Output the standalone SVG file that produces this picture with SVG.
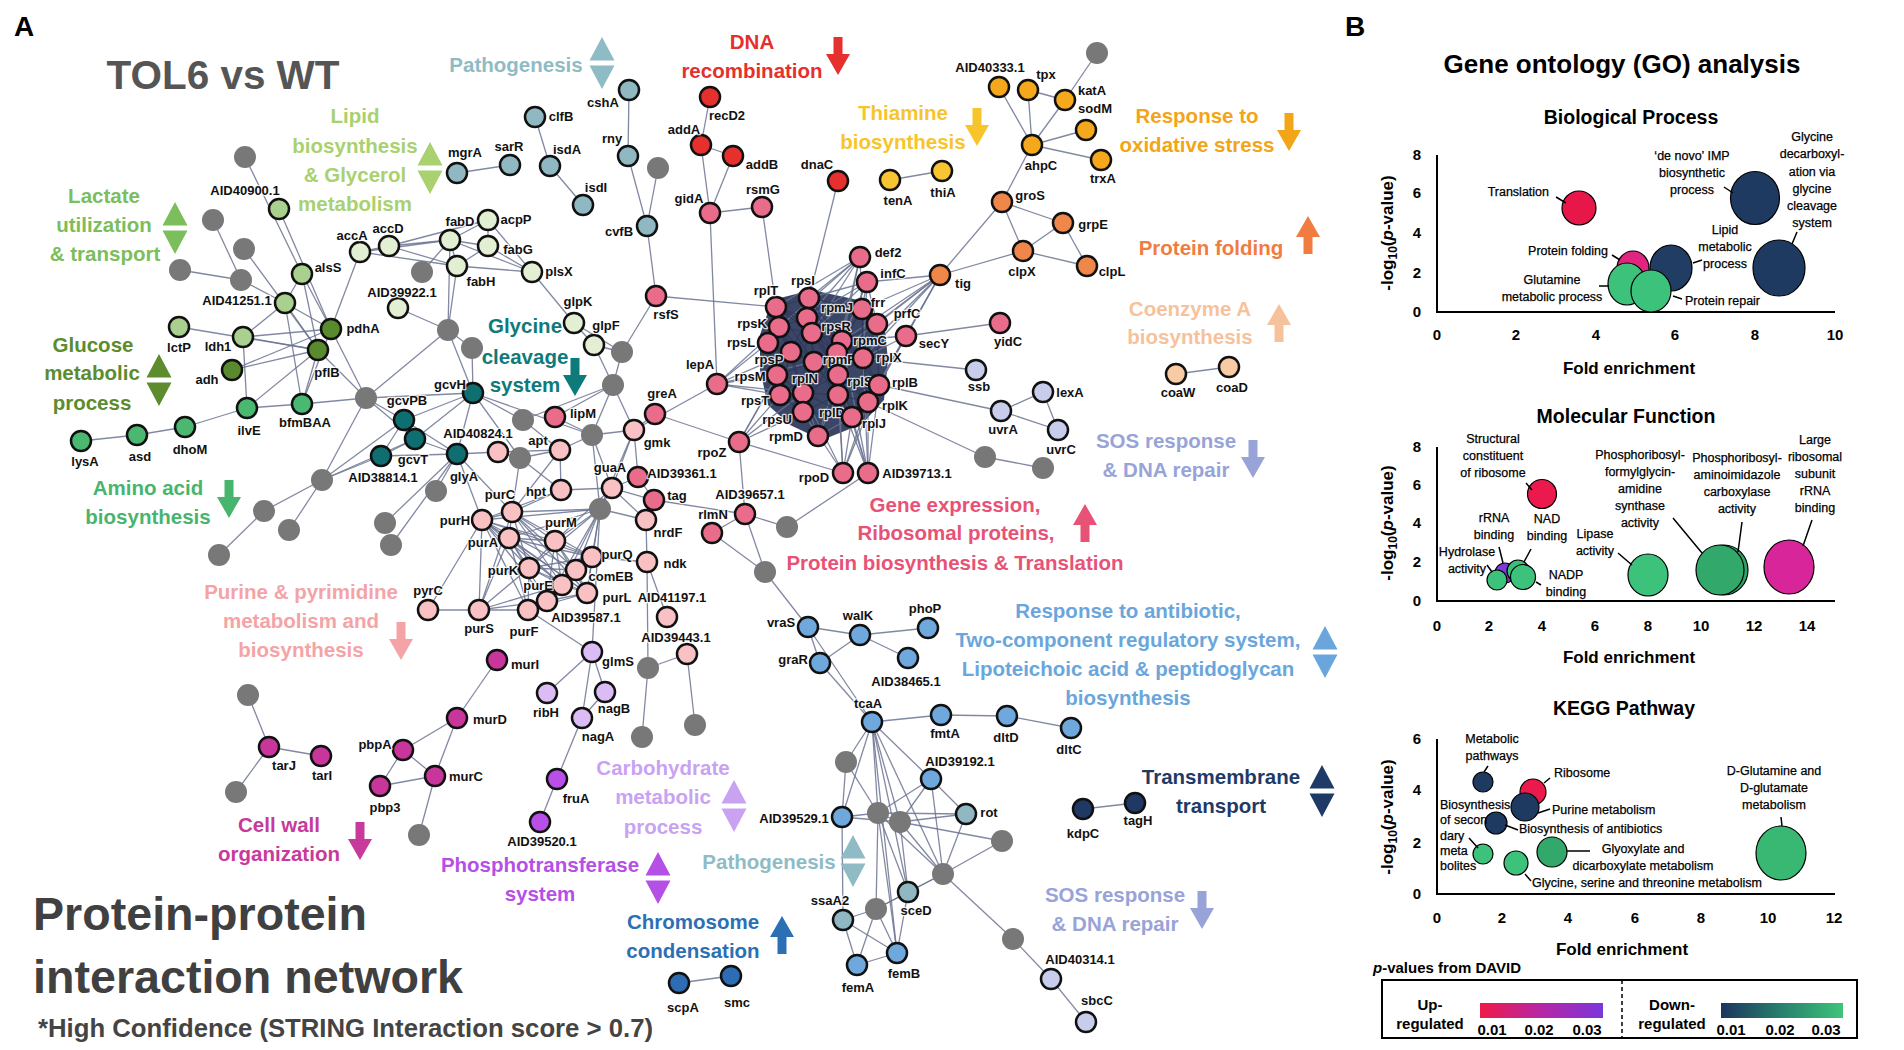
<svg xmlns="http://www.w3.org/2000/svg" width="1904" height="1050" viewBox="0 0 1904 1050">
<style>
text{font-family:"Liberation Sans",Arial,sans-serif}
.e path{fill:none;stroke:#6b7392;stroke-width:1.3;opacity:.85}
.k path{fill:none;stroke:#2f3a5e;stroke-width:1.2}
.nd circle{stroke:#111;stroke-width:2.5}
.nd text{font-size:13px;font-weight:700;text-anchor:middle;fill:#111;paint-order:stroke;stroke:#fff;stroke-width:2.5;stroke-linejoin:round;stroke-opacity:.8}
.gn circle{fill:#787878}
.cat text{font-size:20.5px;font-weight:700;text-anchor:middle}
.cLp{fill:#e3efd2}.cLa{fill:#a9d08e}.cGl{fill:#5a8a2e}.cAm{fill:#4bb872}.cGc{fill:#0f6e70}.cPa{fill:#8fb8c2}.cDn{fill:#e5302d}.cGe{fill:#ea6c8b}.cPu{fill:#f9c1c3}.cTh{fill:#f7c531}.cOx{fill:#f5a81c}.cFo{fill:#f0874a}.cCo{fill:#f8cba5}.cSo{fill:#c8cdeb}.cAb{fill:#6fa8dc}.cCw{fill:#c8359b}.cCa{fill:#dcbcf4}.cPt{fill:#b94fe8}.cCh{fill:#2e6db3}.cTm{fill:#1f3864}
.ax{fill:none;stroke:#000;stroke-width:2}
.tk{font-size:15px;font-weight:700;text-anchor:middle}
.bl{font-size:12.5px;text-anchor:middle;stroke:#000;stroke-width:.25}
.ld{stroke:#000;stroke-width:1.5;fill:none}
.bb{stroke:#000;stroke-width:1.2}
.st{font-size:19.5px;font-weight:700;text-anchor:middle}
.fe{font-size:17px;font-weight:700;text-anchor:middle}
</style>
<defs>
<path id="aD" d="M-4.5,-19H4.5V-2H12L0,19L-12,-2H-4.5Z"/>
<path id="aU" d="M-4.5,19H4.5V2H12L0,-19L-12,2H-4.5Z"/>
<path id="aB" d="M0,-26L12.5,-2.5H-12.5ZM0,26L12.5,2.5H-12.5Z"/>
<linearGradient id="gup"><stop offset="0" stop-color="#ef1a47"/><stop offset=".5" stop-color="#b626a6"/><stop offset="1" stop-color="#7b36db"/></linearGradient>
<linearGradient id="gdn"><stop offset="0" stop-color="#1c355f"/><stop offset=".5" stop-color="#28806d"/><stop offset="1" stop-color="#3fc47a"/></linearGradient>
</defs>
<rect width="1904" height="1050" fill="#fff"/>

<text x="14" y="36" font-size="28" font-weight="700">A</text>
<text x="223" y="89" font-size="41" font-weight="700" fill="#555" text-anchor="middle" textLength="233" lengthAdjust="spacingAndGlyphs">TOL6 vs WT</text>
<text x="33" y="930" font-size="47" font-weight="700" fill="#404040" textLength="334" lengthAdjust="spacingAndGlyphs">Protein-protein</text>
<text x="33" y="993" font-size="47" font-weight="700" fill="#404040" textLength="430" lengthAdjust="spacingAndGlyphs">interaction network</text>
<text x="38" y="1037" font-size="25" font-weight="700" fill="#444" textLength="615" lengthAdjust="spacingAndGlyphs">*High Confidence (STRING Interaction score &gt; 0.7)</text>

<g id="connectors">
<polygon points="772,300 812,290 858,300 884,322 888,360 884,400 862,424 822,440 790,425 768,405 760,370 760,335" fill="#2a3558" opacity=".92"/>
<g class="e">
<path d="M245 157L302 274"/><path d="M279 209L331 329"/><path d="M213 220L241 280"/><path d="M244 249L318 350"/><path d="M180 270L241 280"/><path d="M241 280L285 303"/><path d="M302 274L285 303"/><path d="M302 274L331 329"/><path d="M302 274L318 350"/><path d="M285 303L243 337"/><path d="M285 303L331 329"/><path d="M285 303L318 350"/><path d="M285 303L302 404"/><path d="M179 327L318 350"/><path d="M243 337L331 329"/><path d="M243 337L318 350"/><path d="M243 337L247 408"/><path d="M232 370L331 329"/><path d="M232 370L318 350"/><path d="M318 350L247 408"/><path d="M318 350L302 404"/><path d="M331 329L302 404"/><path d="M331 329L366 398"/><path d="M318 350L366 398"/><path d="M360 252L331 329"/><path d="M360 252L389 246"/><path d="M389 246L450 240"/><path d="M360 252L450 240"/><path d="M389 246L457 266"/><path d="M360 252L457 266"/><path d="M389 246L488 220"/><path d="M450 240L488 220"/><path d="M450 240L488 246"/><path d="M450 240L457 266"/><path d="M488 220L488 246"/><path d="M488 246L457 266"/><path d="M488 220L532 272"/><path d="M488 246L532 272"/><path d="M457 266L532 272"/><path d="M450 240L532 272"/><path d="M450 240L448 330"/><path d="M457 266L448 330"/><path d="M398 308L448 330"/><path d="M422 272L450 240"/><path d="M532 272L574 323"/><path d="M574 323L594 345"/><path d="M574 323L622 352"/><path d="M594 345L622 352"/><path d="M594 345L613 385"/><path d="M448 330L472 348"/><path d="M448 330L473 393"/><path d="M472 348L473 393"/><path d="M448 330L366 398"/><path d="M366 398L302 404"/><path d="M247 408L302 404"/><path d="M247 408L185 427"/><path d="M185 427L137 435"/><path d="M137 435L81 441"/><path d="M366 398L404 420"/><path d="M366 398L415 439"/><path d="M366 398L473 393"/><path d="M366 398L322 480"/><path d="M322 480L404 420"/><path d="M322 480L415 439"/><path d="M322 480L381 456"/><path d="M322 480L264 511"/><path d="M322 480L289 530"/><path d="M264 511L219 555"/><path d="M404 420L415 439"/><path d="M404 420L381 456"/><path d="M415 439L381 456"/><path d="M404 420L457 454"/><path d="M415 439L457 454"/><path d="M473 393L404 420"/><path d="M473 393L415 439"/><path d="M473 393L457 454"/><path d="M381 456L457 454"/><path d="M457 454L436 491"/><path d="M457 454L385 523"/><path d="M457 454L391 545"/><path d="M457 454L482 520"/><path d="M457 454L512 512"/><path d="M457 454L498 452"/><path d="M473 393L592 435"/><path d="M473 393L523 420"/><path d="M473 393L520 458"/>
<path d="M622 352L613 385"/><path d="M613 385L634 430"/><path d="M613 385L592 435"/><path d="M613 385L555 417"/><path d="M613 385L523 420"/><path d="M523 420L560 450"/><path d="M592 435L560 450"/><path d="M592 435L634 430"/><path d="M592 435L612 488"/><path d="M592 435L555 417"/><path d="M592 435L600 509"/><path d="M520 458L512 512"/><path d="M520 458L560 450"/><path d="M520 458L561 490"/><path d="M498 452L520 458"/><path d="M498 452L560 450"/><path d="M560 450L561 490"/><path d="M560 450L512 512"/><path d="M561 490L612 488"/><path d="M561 490L512 512"/><path d="M561 490L482 520"/><path d="M634 430L612 488"/><path d="M634 430L655 414"/><path d="M634 430L717 384"/><path d="M634 430L600 509"/><path d="M634 430L638 477"/><path d="M655 414L739 442"/><path d="M612 488L600 509"/><path d="M612 488L654 500"/><path d="M612 488L646 520"/><path d="M612 488L555 541"/><path d="M612 488L638 477"/><path d="M638 477L654 500"/><path d="M654 500L646 520"/><path d="M654 500L745 514"/><path d="M646 520L647 562"/><path d="M647 562L592 557"/><path d="M647 562L667 617"/><path d="M647 562L648 668"/><path d="M648 668L687 654"/><path d="M648 668L642 737"/><path d="M687 654L695 725"/><path d="M600 509L592 652"/><path d="M600 509L555 541"/><path d="M600 509L592 557"/><path d="M600 509L576 570"/><path d="M600 509L562 585"/><path d="M600 509L529 568"/><path d="M600 509L587 593"/><path d="M600 509L547 601"/><path d="M600 509L509 538"/><path d="M600 509L482 520"/><path d="M600 509L512 512"/><path d="M600 509L646 520"/>
<path d="M482 520L512 512"/><path d="M482 520L509 538"/><path d="M482 520L555 541"/><path d="M482 520L529 568"/><path d="M482 520L562 585"/><path d="M482 520L592 557"/><path d="M482 520L576 570"/><path d="M482 520L587 593"/><path d="M482 520L547 601"/><path d="M482 520L479 610"/><path d="M482 520L528 610"/><path d="M512 512L509 538"/><path d="M512 512L555 541"/><path d="M512 512L529 568"/><path d="M512 512L562 585"/><path d="M512 512L592 557"/><path d="M512 512L576 570"/><path d="M512 512L587 593"/><path d="M512 512L479 610"/><path d="M509 538L555 541"/><path d="M509 538L529 568"/><path d="M509 538L562 585"/><path d="M509 538L592 557"/><path d="M509 538L587 593"/><path d="M509 538L547 601"/><path d="M509 538L479 610"/><path d="M509 538L528 610"/><path d="M555 541L529 568"/><path d="M555 541L562 585"/><path d="M555 541L592 557"/><path d="M555 541L576 570"/><path d="M555 541L587 593"/><path d="M555 541L547 601"/><path d="M529 568L562 585"/><path d="M529 568L592 557"/><path d="M529 568L576 570"/><path d="M529 568L587 593"/><path d="M529 568L479 610"/><path d="M529 568L528 610"/><path d="M562 585L592 557"/><path d="M562 585L576 570"/><path d="M562 585L587 593"/><path d="M562 585L547 601"/><path d="M562 585L479 610"/><path d="M562 585L528 610"/><path d="M592 557L576 570"/><path d="M592 557L587 593"/><path d="M576 570L587 593"/><path d="M547 601L587 593"/><path d="M547 601L528 610"/><path d="M479 610L528 610"/><path d="M479 610L547 601"/><path d="M528 610L587 593"/><path d="M482 520L428 610"/><path d="M428 610L479 610"/><path d="M528 610L592 652"/><path d="M592 652L547 693"/><path d="M592 652L605 692"/><path d="M592 652L582 718"/><path d="M605 692L582 718"/><path d="M582 718L557 779"/><path d="M557 779L540 822"/><path d="M497 660L457 718"/><path d="M457 718L403 750"/><path d="M457 718L435 776"/><path d="M403 750L435 776"/><path d="M403 750L380 786"/><path d="M380 786L435 776"/><path d="M435 776L419 835"/><path d="M248 695L269 747"/><path d="M269 747L321 756"/><path d="M269 747L236 792"/>
<path d="M717 384L768 343"/><path d="M717 384L791 352"/><path d="M717 384L777 375"/><path d="M717 384L780 395"/><path d="M717 384L779 327"/><path d="M717 384L803 393"/><path d="M717 384L814 362"/><path d="M710 213L717 384"/><path d="M710 213L762 207"/><path d="M701 145L710 213"/><path d="M733 156L710 213"/><path d="M701 145L733 156"/><path d="M701 145L710 97"/><path d="M762 207L776 307"/><path d="M838 181L809 298"/><path d="M629 90L628 156"/><path d="M628 156L647 226"/><path d="M658 168L647 226"/><path d="M647 226L656 296"/><path d="M656 296L776 307"/><path d="M656 296L622 352"/><path d="M535 117L550 166"/><path d="M550 166L583 205"/><path d="M457 173L510 165"/><path d="M890 180L942 171"/><path d="M999 87L1032 145"/><path d="M1028 90L1032 145"/><path d="M1028 90L1065 100"/><path d="M1065 100L1032 145"/><path d="M1065 100L1097 53"/><path d="M1086 130L1032 145"/><path d="M1101 160L1032 145"/><path d="M1032 145L1002 202"/><path d="M1002 202L1063 223"/><path d="M1002 202L1023 251"/><path d="M1063 223L1023 251"/><path d="M1063 223L1087 266"/><path d="M1023 251L1087 266"/><path d="M1002 202L940 275"/><path d="M1023 251L940 275"/><path d="M940 275L867 282"/>
<path d="M940 275L862 309"/><path d="M940 275L877 324"/><path d="M940 275L906 336"/><path d="M940 275L842 341"/><path d="M940 275L863 358"/><path d="M940 275L879 385"/><path d="M940 275L838 375"/><path d="M940 275L837 353"/><path d="M940 275L868 402"/>
<path d="M860 257L776 307"/><path d="M860 257L809 298"/><path d="M860 257L807 318"/><path d="M860 257L812 333"/><path d="M860 257L842 341"/><path d="M860 257L837 353"/><path d="M860 257L862 309"/><path d="M860 257L779 327"/>
<path d="M867 282L809 298"/><path d="M867 282L812 333"/><path d="M867 282L842 341"/><path d="M867 282L837 353"/><path d="M867 282L863 358"/><path d="M867 282L862 309"/><path d="M867 282L877 324"/><path d="M867 282L807 318"/>
<path d="M906 336L1000 323"/><path d="M906 336L863 358"/><path d="M906 336L879 385"/><path d="M906 336L842 341"/><path d="M906 336L868 402"/><path d="M976 370L863 358"/><path d="M879 385L1001 411"/><path d="M1001 411L1043 392"/><path d="M1043 392L1058 430"/><path d="M1001 411L1058 430"/><path d="M868 402L985 457"/><path d="M985 457L1043 468"/><path d="M1176 374L1229 367"/>
<path d="M739 442L777 375"/><path d="M739 442L780 395"/><path d="M739 442L803 393"/><path d="M739 442L803 412"/><path d="M739 442L791 352"/><path d="M739 442L843 473"/><path d="M739 442L745 514"/>
<path d="M818 436L803 393"/><path d="M818 436L838 395"/><path d="M818 436L803 412"/><path d="M818 436L852 417"/><path d="M818 436L838 375"/>
<path d="M843 473L803 393"/><path d="M843 473L838 395"/><path d="M843 473L803 412"/><path d="M843 473L852 417"/><path d="M843 473L838 375"/><path d="M843 473L879 385"/><path d="M843 473L868 402"/>
<path d="M868 473L879 385"/><path d="M868 473L868 402"/><path d="M868 473L852 417"/><path d="M868 473L838 395"/><path d="M868 473L838 375"/><path d="M868 473L863 358"/><path d="M868 473L842 341"/>
<path d="M787 527L868 473"/><path d="M745 514L787 527"/><path d="M712 533L745 514"/><path d="M712 533L765 572"/><path d="M745 514L765 572"/><path d="M765 572L808 627"/><path d="M808 627L860 635"/><path d="M808 627L820 663"/><path d="M860 635L820 663"/><path d="M860 635L928 628"/><path d="M860 635L908 658"/><path d="M808 627L872 722"/><path d="M820 663L872 722"/><path d="M872 722L941 715"/><path d="M941 715L1007 716"/><path d="M1007 716L1071 728"/>
<path d="M872 722L846 762"/><path d="M872 722L878 813"/><path d="M872 722L900 822"/><path d="M872 722L931 779"/><path d="M872 722L943 874"/><path d="M872 722L842 817"/><path d="M872 722L908 892"/><path d="M872 722L897 953"/><path d="M846 762L842 817"/><path d="M846 762L878 813"/><path d="M842 817L878 813"/><path d="M842 817L900 822"/><path d="M842 817L843 920"/><path d="M878 813L900 822"/><path d="M878 813L966 814"/><path d="M900 822L966 814"/><path d="M900 822L931 779"/><path d="M878 813L931 779"/><path d="M900 822L1002 841"/><path d="M900 822L943 874"/><path d="M878 813L943 874"/><path d="M900 822L908 892"/><path d="M878 813L897 953"/><path d="M878 813L876 909"/><path d="M878 813L908 892"/><path d="M931 779L943 874"/><path d="M931 779L966 814"/><path d="M966 814L943 874"/><path d="M1002 841L943 874"/><path d="M943 874L908 892"/><path d="M943 874L876 909"/><path d="M943 874L1013 939"/><path d="M908 892L876 909"/><path d="M908 892L897 953"/><path d="M843 920L876 909"/><path d="M843 920L857 965"/><path d="M843 920L897 953"/><path d="M876 909L857 965"/><path d="M876 909L897 953"/><path d="M857 965L897 953"/><path d="M1013 939L1051 979"/><path d="M1051 979L1086 1022"/><path d="M1083 809L1135 803"/><path d="M679 983L731 976"/>
</g>
<g class="k">
<path d="M776 307L809 298"/><path d="M776 307L807 318"/><path d="M776 307L779 327"/><path d="M776 307L812 333"/><path d="M776 307L768 343"/><path d="M776 307L842 341"/><path d="M776 307L791 352"/><path d="M809 298L807 318"/><path d="M809 298L812 333"/><path d="M809 298L842 341"/><path d="M809 298L837 353"/><path d="M809 298L862 309"/><path d="M807 318L779 327"/><path d="M807 318L812 333"/><path d="M807 318L842 341"/><path d="M807 318L791 352"/><path d="M807 318L814 362"/><path d="M807 318L837 353"/><path d="M779 327L812 333"/><path d="M779 327L768 343"/><path d="M779 327L791 352"/><path d="M779 327L814 362"/><path d="M779 327L777 375"/><path d="M812 333L842 341"/><path d="M812 333L791 352"/><path d="M812 333L814 362"/><path d="M812 333L837 353"/><path d="M812 333L838 375"/><path d="M842 341L837 353"/><path d="M842 341L863 358"/><path d="M842 341L862 309"/><path d="M842 341L877 324"/><path d="M842 341L838 375"/><path d="M842 341L879 385"/><path d="M768 343L791 352"/><path d="M768 343L777 375"/><path d="M768 343L814 362"/><path d="M768 343L780 395"/><path d="M791 352L814 362"/><path d="M791 352L777 375"/><path d="M791 352L780 395"/><path d="M791 352L803 393"/><path d="M814 362L837 353"/><path d="M814 362L838 375"/><path d="M814 362L803 393"/><path d="M814 362L777 375"/><path d="M814 362L838 395"/><path d="M837 353L863 358"/><path d="M837 353L838 375"/><path d="M837 353L838 395"/><path d="M863 358L838 375"/><path d="M863 358L879 385"/><path d="M863 358L868 402"/><path d="M863 358L877 324"/><path d="M777 375L780 395"/><path d="M777 375L803 393"/><path d="M777 375L803 412"/><path d="M838 375L879 385"/><path d="M838 375L803 393"/><path d="M838 375L838 395"/><path d="M838 375L868 402"/><path d="M838 375L852 417"/><path d="M879 385L868 402"/><path d="M879 385L838 395"/><path d="M780 395L803 393"/><path d="M780 395L803 412"/><path d="M803 393L838 395"/><path d="M803 393L803 412"/><path d="M803 393L852 417"/><path d="M838 395L868 402"/><path d="M838 395L803 412"/><path d="M838 395L852 417"/><path d="M868 402L852 417"/><path d="M803 412L852 417"/><path d="M862 309L877 324"/><path d="M776 307L852 417"/><path d="M809 298L838 395"/><path d="M779 327L803 393"/><path d="M807 318L803 412"/><path d="M812 333L868 402"/><path d="M837 353L780 395"/><path d="M842 341L803 412"/><path d="M862 309L837 353"/><path d="M862 309L863 358"/><path d="M877 324L879 385"/>
</g>
</g>

<g id="gray-nodes" class="gn">
<g id="g01"><circle cx="245" cy="157" r="11"/></g><g id="g02"><circle cx="213" cy="220" r="11"/></g><g id="g03"><circle cx="244" cy="249" r="11"/></g><g id="g04"><circle cx="180" cy="270" r="11"/></g><g id="g05"><circle cx="241" cy="280" r="11"/></g><g id="g06"><circle cx="422" cy="272" r="11"/></g><g id="g07"><circle cx="448" cy="330" r="11"/></g><g id="g08"><circle cx="472" cy="348" r="11"/></g><g id="g09"><circle cx="622" cy="352" r="11"/></g><g id="g10"><circle cx="658" cy="168" r="11"/></g><g id="g11"><circle cx="366" cy="398" r="11"/></g><g id="g12"><circle cx="322" cy="480" r="11"/></g><g id="g13"><circle cx="264" cy="511" r="11"/></g><g id="g14"><circle cx="289" cy="530" r="11"/></g><g id="g15"><circle cx="219" cy="555" r="11"/></g><g id="g16"><circle cx="436" cy="491" r="11"/></g><g id="g17"><circle cx="385" cy="523" r="11"/></g><g id="g18"><circle cx="391" cy="545" r="11"/></g><g id="g19"><circle cx="613" cy="385" r="11"/></g><g id="g20"><circle cx="523" cy="420" r="11"/></g><g id="g21"><circle cx="592" cy="435" r="11"/></g><g id="g22"><circle cx="520" cy="458" r="11"/></g><g id="g23"><circle cx="600" cy="509" r="11"/></g><g id="g24"><circle cx="787" cy="527" r="11"/></g><g id="g25"><circle cx="765" cy="572" r="11"/></g><g id="g26"><circle cx="648" cy="668" r="11"/></g><g id="g27"><circle cx="642" cy="737" r="11"/></g><g id="g28"><circle cx="695" cy="725" r="11"/></g><g id="g29"><circle cx="248" cy="695" r="11"/></g><g id="g30"><circle cx="236" cy="792" r="11"/></g><g id="g31"><circle cx="419" cy="835" r="11"/></g><g id="g32"><circle cx="1097" cy="53" r="11"/></g><g id="g33"><circle cx="985" cy="457" r="11"/></g><g id="g34"><circle cx="1043" cy="468" r="11"/></g><g id="g35"><circle cx="846" cy="762" r="11"/></g><g id="g36"><circle cx="878" cy="813" r="11"/></g><g id="g37"><circle cx="900" cy="822" r="11"/></g><g id="g38"><circle cx="1002" cy="841" r="11"/></g><g id="g39"><circle cx="943" cy="874" r="11"/></g><g id="g40"><circle cx="876" cy="909" r="11"/></g><g id="g41"><circle cx="1013" cy="939" r="11"/></g>
</g>

<g id="nodes" class="nd">
<g id="n-accA"><circle class="cLp" cx="360" cy="252" r="10"/><text x="352" y="239.5">accA</text></g>
<g id="n-accD"><circle class="cLp" cx="389" cy="246" r="10"/><text x="388" y="232.5">accD</text></g>
<g id="n-fabD"><circle class="cLp" cx="450" cy="240" r="10"/><text x="460" y="225.5">fabD</text></g>
<g id="n-acpP"><circle class="cLp" cx="488" cy="220" r="10"/><text x="516" y="223.5">acpP</text></g>
<g id="n-fabG"><circle class="cLp" cx="488" cy="246" r="10"/><text x="518" y="253.5">fabG</text></g>
<g id="n-fabH"><circle class="cLp" cx="457" cy="266" r="10"/><text x="481" y="285.5">fabH</text></g>
<g id="n-plsX"><circle class="cLp" cx="532" cy="272" r="10"/><text x="559" y="275.5">plsX</text></g>
<g id="n-glpK"><circle class="cLp" cx="574" cy="323" r="10"/><text x="578" y="305.5">glpK</text></g>
<g id="n-glpF"><circle class="cLp" cx="594" cy="345" r="10"/><text x="606" y="329.5">glpF</text></g>
<g id="n-AID39922"><circle class="cLp" cx="398" cy="308" r="10"/><text x="402" y="296.5">AID39922.1</text></g>
<g id="n-AID40900"><circle class="cLa" cx="279" cy="209" r="10"/><text x="245" y="194.5">AID40900.1</text></g>
<g id="n-alsS"><circle class="cLa" cx="302" cy="274" r="10"/><text x="328" y="271.5">alsS</text></g>
<g id="n-AID41251"><circle class="cLa" cx="285" cy="303" r="10"/><text x="237" y="304.5">AID41251.1</text></g>
<g id="n-lctP"><circle class="cLa" cx="179" cy="327" r="10"/><text x="179" y="351.5">lctP</text></g>
<g id="n-ldh1"><circle class="cLa" cx="243" cy="337" r="10"/><text x="218" y="350.5">ldh1</text></g>
<g id="n-pdhA"><circle class="cGl" cx="331" cy="329" r="10"/><text x="363" y="332.5">pdhA</text></g>
<g id="n-pflB"><circle class="cGl" cx="318" cy="350" r="10"/><text x="327" y="376.5">pflB</text></g>
<g id="n-adh"><circle class="cGl" cx="232" cy="370" r="10"/><text x="207" y="383.5">adh</text></g>
<g id="n-ilvE"><circle class="cAm" cx="247" cy="408" r="10"/><text x="249" y="434.5">ilvE</text></g>
<g id="n-bfmBAA"><circle class="cAm" cx="302" cy="404" r="10"/><text x="305" y="426.5">bfmBAA</text></g>
<g id="n-dhoM"><circle class="cAm" cx="185" cy="427" r="10"/><text x="190" y="453.5">dhoM</text></g>
<g id="n-asd"><circle class="cAm" cx="137" cy="435" r="10"/><text x="140" y="460.5">asd</text></g>
<g id="n-lysA"><circle class="cAm" cx="81" cy="441" r="10"/><text x="85" y="465.5">lysA</text></g>
<g id="n-gcvH"><circle class="cGc" cx="473" cy="393" r="10"/><text x="450" y="388.5">gcvH</text></g>
<g id="n-gcvPB"><circle class="cGc" cx="404" cy="420" r="10"/><text x="407" y="404.5">gcvPB</text></g>
<g id="n-gcvT"><circle class="cGc" cx="415" cy="439" r="10"/><text x="413" y="463.5">gcvT</text></g>
<g id="n-AID38814"><circle class="cGc" cx="381" cy="456" r="10"/><text x="383" y="481.5">AID38814.1</text></g>
<g id="n-glyA"><circle class="cGc" cx="457" cy="454" r="10"/><text x="464" y="480.5">glyA</text></g>
<g id="n-mgrA"><circle class="cPa" cx="457" cy="173" r="10"/><text x="465" y="156.5">mgrA</text></g>
<g id="n-sarR"><circle class="cPa" cx="510" cy="165" r="10"/><text x="509" y="150.5">sarR</text></g>
<g id="n-clfB"><circle class="cPa" cx="535" cy="117" r="10"/><text x="561" y="120.5">clfB</text></g>
<g id="n-isdA"><circle class="cPa" cx="550" cy="166" r="10"/><text x="567" y="153.5">isdA</text></g>
<g id="n-isdI"><circle class="cPa" cx="583" cy="205" r="10"/><text x="596" y="191.5">isdI</text></g>
<g id="n-cshA"><circle class="cPa" cx="629" cy="90" r="10"/><text x="603" y="106.5">cshA</text></g>
<g id="n-rny"><circle class="cPa" cx="628" cy="156" r="10"/><text x="612" y="142.5">rny</text></g>
<g id="n-cvfB"><circle class="cPa" cx="647" cy="226" r="10"/><text x="619" y="235.5">cvfB</text></g>
<g id="n-rot"><circle class="cPa" cx="966" cy="814" r="10"/><text x="989" y="816.5">rot</text></g>
<g id="n-sceD"><circle class="cPa" cx="908" cy="892" r="10"/><text x="916" y="914.5">sceD</text></g>
<g id="n-ssaA2"><circle class="cPa" cx="843" cy="920" r="10"/><text x="830" y="904.5">ssaA2</text></g>
<g id="n-recD2"><circle class="cDn" cx="710" cy="97" r="10"/><text x="727" y="119.5">recD2</text></g>
<g id="n-addA"><circle class="cDn" cx="701" cy="145" r="10"/><text x="684" y="133.5">addA</text></g>
<g id="n-addB"><circle class="cDn" cx="733" cy="156" r="10"/><text x="762" y="168.5">addB</text></g>
<g id="n-dnaC"><circle class="cDn" cx="838" cy="181" r="10"/><text x="817" y="168.5">dnaC</text></g>
<g id="n-gidA"><circle class="cGe" cx="710" cy="213" r="10"/><text x="689" y="202.5">gidA</text></g>
<g id="n-rsmG"><circle class="cGe" cx="762" cy="207" r="10"/><text x="763" y="193.5">rsmG</text></g>
<g id="n-rsfS"><circle class="cGe" cx="656" cy="296" r="10"/><text x="666" y="318.5">rsfS</text></g>
<g id="n-def2"><circle class="cGe" cx="860" cy="257" r="10"/><text x="888" y="256.5">def2</text></g>
<g id="n-infC"><circle class="cGe" cx="867" cy="282" r="10"/><text x="893" y="277.5">infC</text></g>
<g id="n-lipM"><circle class="cGe" cx="555" cy="417" r="10"/><text x="583" y="417.5">lipM</text></g>
<g id="n-greA"><circle class="cGe" cx="655" cy="414" r="10"/><text x="662" y="397.5">greA</text></g>
<g id="n-lepA"><circle class="cGe" cx="717" cy="384" r="10"/><text x="700" y="368.5">lepA</text></g>
<g id="n-rpoZ"><circle class="cGe" cx="739" cy="442" r="10"/><text x="712" y="456.5">rpoZ</text></g>
<g id="n-rpoD"><circle class="cGe" cx="843" cy="473" r="10"/><text x="814" y="481.5">rpoD</text></g>
<g id="n-AID39713"><circle class="cGe" cx="868" cy="473" r="10"/><text x="917" y="477.5">AID39713.1</text></g>
<g id="n-AID39361"><circle class="cGe" cx="638" cy="477" r="10"/><text x="682" y="477.5">AID39361.1</text></g>
<g id="n-tag"><circle class="cGe" cx="654" cy="500" r="10"/><text x="677" y="499.5">tag</text></g>
<g id="n-rlmN"><circle class="cGe" cx="712" cy="533" r="10"/><text x="713" y="518.5">rlmN</text></g>
<g id="n-AID39657"><circle class="cGe" cx="745" cy="514" r="10"/><text x="750" y="498.5">AID39657.1</text></g>
<g id="n-rpmD"><circle class="cGe" cx="818" cy="436" r="10"/><text x="786" y="440.5">rpmD</text></g>
<g id="n-yidC"><circle class="cGe" cx="1000" cy="323" r="10"/><text x="1008" y="345.5">yidC</text></g>
<g id="n-secY"><circle class="cGe" cx="906" cy="336" r="10"/><text x="934" y="347.5">secY</text></g>
<g id="n-prfC"><circle class="cGe" cx="877" cy="324" r="10"/><text x="907" y="317.5">prfC</text></g>
<g id="n-frr"><circle class="cGe" cx="862" cy="309" r="10"/><text x="878" y="306.5">frr</text></g>
<g id="n-rplT"><circle class="cGe" cx="776" cy="307" r="10"/><text x="766" y="294.5">rplT</text></g>
<g id="n-rpsI"><circle class="cGe" cx="809" cy="298" r="10"/><text x="803" y="284.5">rpsI</text></g>
<g id="n-rpmJ"><circle class="cGe" cx="807" cy="318" r="10"/><text x="837" y="311.5">rpmJ</text></g>
<g id="n-rpsK"><circle class="cGe" cx="779" cy="327" r="10"/><text x="752" y="327.5">rpsK</text></g>
<g id="n-rpsR"><circle class="cGe" cx="812" cy="333" r="10"/><text x="836" y="330.5">rpsR</text></g>
<g id="n-rpmC"><circle class="cGe" cx="842" cy="341" r="10"/><text x="870" y="344.5">rpmC</text></g>
<g id="n-rpsL"><circle class="cGe" cx="768" cy="343" r="10"/><text x="741" y="346.5">rpsL</text></g>
<g id="n-rpsP"><circle class="cGe" cx="791" cy="352" r="10"/><text x="769" y="363.5">rpsP</text></g>
<g id="n-rpsX"><circle class="cGe" cx="814" cy="362" r="10"/></g>
<g id="n-rpmF"><circle class="cGe" cx="837" cy="353" r="10"/><text x="839" y="363.5">rpmF</text></g>
<g id="n-rplX"><circle class="cGe" cx="863" cy="358" r="10"/><text x="889" y="361.5">rplX</text></g>
<g id="n-rpsM"><circle class="cGe" cx="777" cy="375" r="10"/><text x="750" y="380.5">rpsM</text></g>
<g id="n-rplS"><circle class="cGe" cx="838" cy="375" r="10"/><text x="860" y="385.5">rplS</text></g>
<g id="n-rplB"><circle class="cGe" cx="879" cy="385" r="10"/><text x="905" y="386.5">rplB</text></g>
<g id="n-rpsT"><circle class="cGe" cx="780" cy="395" r="10"/><text x="755" y="404.5">rpsT</text></g>
<g id="n-rplN"><circle class="cGe" cx="803" cy="393" r="10"/><text x="805" y="382.5">rplN</text></g>
<g id="n-rplD"><circle class="cGe" cx="838" cy="395" r="10"/><text x="832" y="416.5">rplD</text></g>
<g id="n-rplK"><circle class="cGe" cx="868" cy="402" r="10"/><text x="895" y="409.5">rplK</text></g>
<g id="n-rpsU"><circle class="cGe" cx="803" cy="412" r="10"/><text x="777" y="423.5">rpsU</text></g>
<g id="n-rplJ"><circle class="cGe" cx="852" cy="417" r="10"/><text x="874" y="427.5">rplJ</text></g>
<g id="n-AID40824"><circle class="cPu" cx="498" cy="452" r="10"/><text x="478" y="437.5">AID40824.1</text></g>
<g id="n-apt"><circle class="cPu" cx="560" cy="450" r="10"/><text x="538" y="444.5">apt</text></g>
<g id="n-gmk"><circle class="cPu" cx="634" cy="430" r="10"/><text x="657" y="446.5">gmk</text></g>
<g id="n-guaA"><circle class="cPu" cx="612" cy="488" r="10"/><text x="610" y="471.5">guaA</text></g>
<g id="n-hpt"><circle class="cPu" cx="561" cy="490" r="10"/><text x="536" y="495.5">hpt</text></g>
<g id="n-purC"><circle class="cPu" cx="512" cy="512" r="10"/><text x="500" y="498.5">purC</text></g>
<g id="n-purH"><circle class="cPu" cx="482" cy="520" r="10"/><text x="455" y="524.5">purH</text></g>
<g id="n-purM"><circle class="cPu" cx="555" cy="541" r="10"/><text x="561" y="526.5">purM</text></g>
<g id="n-purA"><circle class="cPu" cx="509" cy="538" r="10"/><text x="483" y="546.5">purA</text></g>
<g id="n-nrdF"><circle class="cPu" cx="646" cy="520" r="10"/><text x="668" y="536.5">nrdF</text></g>
<g id="n-purQ"><circle class="cPu" cx="592" cy="557" r="10"/><text x="617" y="558.5">purQ</text></g>
<g id="n-ndk"><circle class="cPu" cx="647" cy="562" r="10"/><text x="675" y="567.5">ndk</text></g>
<g id="n-purK"><circle class="cPu" cx="529" cy="568" r="10"/><text x="503" y="574.5">purK</text></g>
<g id="n-comEB"><circle class="cPu" cx="576" cy="570" r="10"/><text x="611" y="580.5">comEB</text></g>
<g id="n-purE"><circle class="cPu" cx="562" cy="585" r="10"/><text x="538" y="589.5">purE</text></g>
<g id="n-purL"><circle class="cPu" cx="587" cy="593" r="10"/><text x="617" y="601.5">purL</text></g>
<g id="n-AID39587"><circle class="cPu" cx="547" cy="601" r="10"/><text x="586" y="621.5">AID39587.1</text></g>
<g id="n-purS"><circle class="cPu" cx="479" cy="610" r="10"/><text x="479" y="632.5">purS</text></g>
<g id="n-purF"><circle class="cPu" cx="528" cy="610" r="10"/><text x="524" y="635.5">purF</text></g>
<g id="n-pyrC"><circle class="cPu" cx="428" cy="610" r="10"/><text x="428" y="594.5">pyrC</text></g>
<g id="n-AID41197"><circle class="cPu" cx="667" cy="617" r="10"/><text x="672" y="601.5">AID41197.1</text></g>
<g id="n-AID39443"><circle class="cPu" cx="687" cy="654" r="10"/><text x="676" y="641.5">AID39443.1</text></g>
<g id="n-tenA"><circle class="cTh" cx="890" cy="180" r="10"/><text x="898" y="204.5">tenA</text></g>
<g id="n-thiA"><circle class="cTh" cx="942" cy="171" r="10"/><text x="943" y="196.5">thiA</text></g>
<g id="n-AID40333"><circle class="cOx" cx="999" cy="87" r="10"/><text x="990" y="71.5">AID40333.1</text></g>
<g id="n-tpx"><circle class="cOx" cx="1028" cy="90" r="10"/><text x="1046" y="78.5">tpx</text></g>
<g id="n-katA"><circle class="cOx" cx="1065" cy="100" r="10"/><text x="1092" y="94.5">katA</text></g>
<g id="n-sodM"><circle class="cOx" cx="1086" cy="130" r="10"/><text x="1095" y="112.5">sodM</text></g>
<g id="n-ahpC"><circle class="cOx" cx="1032" cy="145" r="10"/><text x="1041" y="169.5">ahpC</text></g>
<g id="n-trxA"><circle class="cOx" cx="1101" cy="160" r="10"/><text x="1103" y="182.5">trxA</text></g>
<g id="n-groS"><circle class="cFo" cx="1002" cy="202" r="10"/><text x="1030" y="199.5">groS</text></g>
<g id="n-grpE"><circle class="cFo" cx="1063" cy="223" r="10"/><text x="1093" y="228.5">grpE</text></g>
<g id="n-clpX"><circle class="cFo" cx="1023" cy="251" r="10"/><text x="1022" y="275.5">clpX</text></g>
<g id="n-clpL"><circle class="cFo" cx="1087" cy="266" r="10"/><text x="1112" y="275.5">clpL</text></g>
<g id="n-tig"><circle class="cFo" cx="940" cy="275" r="10"/><text x="963" y="287.5">tig</text></g>
<g id="n-coaW"><circle class="cCo" cx="1176" cy="374" r="10"/><text x="1178" y="396.5">coaW</text></g>
<g id="n-coaD"><circle class="cCo" cx="1229" cy="367" r="10"/><text x="1232" y="391.5">coaD</text></g>
<g id="n-ssb"><circle class="cSo" cx="976" cy="370" r="10"/><text x="979" y="390.5">ssb</text></g>
<g id="n-lexA"><circle class="cSo" cx="1043" cy="392" r="10"/><text x="1070" y="396.5">lexA</text></g>
<g id="n-uvrA"><circle class="cSo" cx="1001" cy="411" r="10"/><text x="1003" y="433.5">uvrA</text></g>
<g id="n-uvrC"><circle class="cSo" cx="1058" cy="430" r="10"/><text x="1061" y="453.5">uvrC</text></g>
<g id="n-AID40314"><circle class="cSo" cx="1051" cy="979" r="10"/><text x="1080" y="963.5">AID40314.1</text></g>
<g id="n-sbcC"><circle class="cSo" cx="1086" cy="1022" r="10"/><text x="1097" y="1004.5">sbcC</text></g>
<g id="n-vraS"><circle class="cAb" cx="808" cy="627" r="10"/><text x="781" y="626.5">vraS</text></g>
<g id="n-walK"><circle class="cAb" cx="860" cy="635" r="10"/><text x="858" y="619.5">walK</text></g>
<g id="n-graR"><circle class="cAb" cx="820" cy="663" r="10"/><text x="793" y="663.5">graR</text></g>
<g id="n-phoP"><circle class="cAb" cx="928" cy="628" r="10"/><text x="925" y="612.5">phoP</text></g>
<g id="n-AID38465"><circle class="cAb" cx="908" cy="658" r="10"/><text x="906" y="685.5">AID38465.1</text></g>
<g id="n-tcaA"><circle class="cAb" cx="872" cy="722" r="10"/><text x="868" y="707.5">tcaA</text></g>
<g id="n-fmtA"><circle class="cAb" cx="941" cy="715" r="10"/><text x="945" y="737.5">fmtA</text></g>
<g id="n-dltD"><circle class="cAb" cx="1007" cy="716" r="10"/><text x="1006" y="741.5">dltD</text></g>
<g id="n-dltC"><circle class="cAb" cx="1071" cy="728" r="10"/><text x="1069" y="753.5">dltC</text></g>
<g id="n-AID39192"><circle class="cAb" cx="931" cy="779" r="10"/><text x="960" y="765.5">AID39192.1</text></g>
<g id="n-AID39529"><circle class="cAb" cx="842" cy="817" r="10"/><text x="794" y="822.5">AID39529.1</text></g>
<g id="n-femA"><circle class="cAb" cx="857" cy="965" r="10"/><text x="858" y="991.5">femA</text></g>
<g id="n-femB"><circle class="cAb" cx="897" cy="953" r="10"/><text x="904" y="977.5">femB</text></g>
<g id="n-murI"><circle class="cCw" cx="497" cy="660" r="10"/><text x="525" y="668.5">murI</text></g>
<g id="n-murD"><circle class="cCw" cx="457" cy="718" r="10"/><text x="490" y="723.5">murD</text></g>
<g id="n-murC"><circle class="cCw" cx="435" cy="776" r="10"/><text x="466" y="780.5">murC</text></g>
<g id="n-pbpA"><circle class="cCw" cx="403" cy="750" r="10"/><text x="375" y="748.5">pbpA</text></g>
<g id="n-pbp3"><circle class="cCw" cx="380" cy="786" r="10"/><text x="385" y="811.5">pbp3</text></g>
<g id="n-tarJ"><circle class="cCw" cx="269" cy="747" r="10"/><text x="284" y="769.5">tarJ</text></g>
<g id="n-tarI"><circle class="cCw" cx="321" cy="756" r="10"/><text x="322" y="779.5">tarI</text></g>
<g id="n-glmS"><circle class="cCa" cx="592" cy="652" r="10"/><text x="618" y="665.5">glmS</text></g>
<g id="n-ribH"><circle class="cCa" cx="547" cy="693" r="10"/><text x="546" y="716.5">ribH</text></g>
<g id="n-nagB"><circle class="cCa" cx="605" cy="692" r="10"/><text x="614" y="712.5">nagB</text></g>
<g id="n-nagA"><circle class="cCa" cx="582" cy="718" r="10"/><text x="598" y="740.5">nagA</text></g>
<g id="n-fruA"><circle class="cPt" cx="557" cy="779" r="10"/><text x="576" y="802.5">fruA</text></g>
<g id="n-AID39520"><circle class="cPt" cx="540" cy="822" r="10"/><text x="542" y="845.5">AID39520.1</text></g>
<g id="n-scpA"><circle class="cCh" cx="679" cy="983" r="10"/><text x="683" y="1011.5">scpA</text></g>
<g id="n-smc"><circle class="cCh" cx="731" cy="976" r="10"/><text x="737" y="1006.5">smc</text></g>
<g id="n-kdpC"><circle class="cTm" cx="1083" cy="809" r="10"/><text x="1083" y="837.5">kdpC</text></g>
<g id="n-tagH"><circle class="cTm" cx="1135" cy="803" r="10"/><text x="1138" y="824.5">tagH</text></g>
</g>

<g id="categories" class="cat">
<g id="cat-path1" fill="#8fbcc4"><text x="516" y="72">Pathogenesis</text><use href="#aB" x="602" y="63"/></g>
<g id="cat-dna" fill="#e5302d"><text x="752" y="49">DNA</text><text x="752" y="78">recombination</text><use href="#aD" x="838" y="56"/></g>
<g id="cat-thi" fill="#f7c52b"><text x="903" y="120">Thiamine</text><text x="903" y="149">biosynthesis</text><use href="#aD" x="977" y="127"/></g>
<g id="cat-oxi" fill="#f2a516"><text x="1197" y="123">Response to</text><text x="1197" y="152">oxidative stress</text><use href="#aD" x="1289" y="132"/></g>
<g id="cat-lip" fill="#a9d16f"><text x="355" y="123">Lipid</text><text x="355" y="153">biosynthesis</text><text x="355" y="182">&amp; Glycerol</text><text x="355" y="211">metabolism</text><use href="#aB" x="430" y="168"/></g>
<g id="cat-lac" fill="#7cbd5c"><text x="104" y="203">Lactate</text><text x="104" y="232">utilization</text><text x="105" y="261">&amp; transport</text><use href="#aB" x="175" y="228"/></g>
<g id="cat-glu" fill="#5c8c2e"><text x="93" y="352">Glucose</text><text x="92" y="380">metabolic</text><text x="92" y="410">process</text><use href="#aB" x="159" y="380"/></g>
<g id="cat-ami" fill="#48b56e"><text x="148" y="495">Amino acid</text><text x="148" y="524">biosynthesis</text><use href="#aD" x="229" y="499"/></g>
<g id="cat-gcv" fill="#0f7a7a"><text x="525" y="333">Glycine</text><text x="525" y="364">cleavage</text><text x="525" y="392">system</text><use href="#aD" x="575" y="377"/></g>
<g id="cat-pur" fill="#f4a3a6"><text x="301" y="599">Purine &amp; pyrimidine</text><text x="301" y="628">metabolism and</text><text x="301" y="657">biosynthesis</text><use href="#aD" x="401" y="641"/></g>
<g id="cat-fol" fill="#f07c3f"><text x="1211" y="255">Protein folding</text><use href="#aU" x="1308" y="235"/></g>
<g id="cat-coa" fill="#f6c29c"><text x="1190" y="316">Coenzyme A</text><text x="1190" y="344">biosynthesis</text><use href="#aU" x="1279" y="323"/></g>
<g id="cat-sos1" fill="#98a3d8"><text x="1166" y="448">SOS response</text><text x="1166" y="477">&amp; DNA repair</text><use href="#aD" x="1253" y="459"/></g>
<g id="cat-gen" fill="#e85277"><text x="955" y="512">Gene expression,</text><text x="956" y="540">Ribosomal proteins,</text><text x="955" y="570">Protein biosynthesis &amp; Translation</text><use href="#aU" x="1085" y="523"/></g>
<g id="cat-abx" fill="#6aa6dc"><text x="1128" y="618">Response to antibiotic,</text><text x="1128" y="647">Two-component regulatory system,</text><text x="1128" y="676">Lipoteichoic acid &amp; peptidoglycan</text><text x="1128" y="705">biosynthesis</text><use href="#aB" x="1325" y="652"/></g>
<g id="cat-cw" fill="#c73a9c"><text x="279" y="832">Cell wall</text><text x="279" y="861">organization</text><use href="#aD" x="360" y="841"/></g>
<g id="cat-car" fill="#c9a2f2"><text x="663" y="775">Carbohydrate</text><text x="663" y="804">metabolic</text><text x="663" y="834">process</text><use href="#aB" x="734" y="806"/></g>
<g id="cat-pts" fill="#b550e6"><text x="540" y="872">Phosphotransferase</text><text x="540" y="901">system</text><use href="#aB" x="658" y="878"/></g>
<g id="cat-path2" fill="#8fbcc4"><text x="769" y="869">Pathogenesis</text><use href="#aB" x="853" y="861"/></g>
<g id="cat-chr" fill="#2b70b5"><text x="693" y="929">Chromosome</text><text x="693" y="958">condensation</text><use href="#aU" x="782" y="935"/></g>
<g id="cat-tm" fill="#1f3a66"><text x="1221" y="784">Transmembrane</text><text x="1221" y="813">transport</text><use href="#aB" x="1322" y="791"/></g>
<g id="cat-sos2" fill="#98a3d8"><text x="1115" y="902">SOS response</text><text x="1115" y="931">&amp; DNA repair</text><use href="#aD" x="1202" y="910"/></g>
</g>

<g id="panelB">
<text x="1345" y="36" font-size="28" font-weight="700">B</text>
<text x="1622" y="73" font-size="26" font-weight="700" text-anchor="middle">Gene ontology (GO) analysis</text>

<g id="bp">
<text class="st" x="1631" y="124">Biological Process</text>
<path class="ax" d="M1437 155V312H1835"/>
<text class="tk" x="1417" y="317">0</text><text class="tk" x="1417" y="278">2</text><text class="tk" x="1417" y="238">4</text><text class="tk" x="1417" y="198">6</text><text class="tk" x="1417" y="160">8</text>
<text class="tk" x="1437" y="340">0</text><text class="tk" x="1516" y="340">2</text><text class="tk" x="1596" y="340">4</text><text class="tk" x="1675" y="340">6</text><text class="tk" x="1755" y="340">8</text><text class="tk" x="1835" y="340">10</text>
<text class="fe" x="1629" y="374">Fold enrichment</text>
<text class="fe" transform="translate(1393 233) rotate(-90)">-log<tspan font-size="12" dy="4">10</tspan><tspan dy="-4">(</tspan><tspan font-style="italic">p</tspan>-value)</text>
<circle class="bb" cx="1579" cy="208" r="17" fill="#e8174a"/>
<ellipse class="bb" cx="1755" cy="198" rx="24.5" ry="26.5" fill="#1f3a60"/>
<ellipse class="bb" cx="1779" cy="268" rx="26" ry="28" fill="#1f3a60"/>
<ellipse class="bb" cx="1633" cy="268" rx="16" ry="17" fill="#e0247f"/>
<ellipse class="bb" cx="1671" cy="268" rx="21" ry="23" fill="#213d63"/>
<ellipse class="bb" cx="1627" cy="284" rx="19" ry="21" fill="#3cc27a"/>
<ellipse class="bb" cx="1651" cy="291" rx="20" ry="21" fill="#3cc27a"/>
<text class="bl" x="1549" y="196" style="text-anchor:end">Translation</text>
<text class="bl" x="1692" y="160">‘de novo’ IMP</text><text class="bl" x="1692" y="177">biosynthetic</text><text class="bl" x="1692" y="194">process</text>
<text class="bl" x="1812" y="141">Glycine</text><text class="bl" x="1812" y="158">decarboxyl-</text><text class="bl" x="1812" y="176">ation via</text><text class="bl" x="1812" y="193">glycine</text><text class="bl" x="1812" y="210">cleavage</text><text class="bl" x="1812" y="227">system</text>
<text class="bl" x="1725" y="234">Lipid</text><text class="bl" x="1725" y="251">metabolic</text><text class="bl" x="1725" y="268">process</text>
<text class="bl" x="1608" y="255" style="text-anchor:end">Protein folding</text>
<text class="bl" x="1552" y="284">Glutamine</text><text class="bl" x="1552" y="301">metabolic process</text>
<text class="bl" x="1685" y="305" style="text-anchor:start">Protein repair</text>
<path class="ld" d="M1556 197L1566 203M1724 187L1733 193M1797 232L1792 244M1702 260L1693 263M1612 255L1620 260M1599 286L1609 286M1673 296L1682 299"/>
</g>

<g id="mf">
<text class="st" x="1626" y="423">Molecular Function</text>
<path class="ax" d="M1437 447V601H1835"/>
<text class="tk" x="1417" y="606">0</text><text class="tk" x="1417" y="567">2</text><text class="tk" x="1417" y="528">4</text><text class="tk" x="1417" y="490">6</text><text class="tk" x="1417" y="452">8</text>
<text class="tk" x="1437" y="631">0</text><text class="tk" x="1489" y="631">2</text><text class="tk" x="1542" y="631">4</text><text class="tk" x="1595" y="631">6</text><text class="tk" x="1648" y="631">8</text><text class="tk" x="1701" y="631">10</text><text class="tk" x="1754" y="631">12</text><text class="tk" x="1807" y="631">14</text>
<text class="fe" x="1629" y="663">Fold enrichment</text>
<text class="fe" transform="translate(1393 523) rotate(-90)">-log<tspan font-size="12" dy="4">10</tspan><tspan dy="-4">(</tspan><tspan font-style="italic">p</tspan>-value)</text>
<circle class="bb" cx="1542" cy="494" r="14.5" fill="#ec1a4c"/>
<circle class="bb" cx="1505" cy="573" r="10" fill="#7a3bd6"/>
<circle class="bb" cx="1518" cy="571" r="11" fill="#3cc078"/>
<circle class="bb" cx="1497" cy="580" r="10" fill="#3cc27a"/>
<circle class="bb" cx="1523" cy="577" r="12.5" fill="#3cc27a"/>
<ellipse class="bb" cx="1648" cy="575" rx="20" ry="21" fill="#3cc27a"/>
<ellipse class="bb" cx="1724" cy="570" rx="24" ry="25" fill="#2fa468"/>
<ellipse class="bb" cx="1720" cy="570" rx="24" ry="25" fill="#33a86b"/>
<ellipse class="bb" cx="1789" cy="567" rx="25" ry="27" fill="#d9259a"/>
<text class="bl" x="1493" y="443">Structural</text><text class="bl" x="1493" y="460">constituent</text><text class="bl" x="1493" y="477">of ribosome</text>
<text class="bl" x="1494" y="522">rRNA</text><text class="bl" x="1494" y="539">binding</text>
<text class="bl" x="1547" y="523">NAD</text><text class="bl" x="1547" y="540">binding</text>
<text class="bl" x="1467" y="556">Hydrolase</text><text class="bl" x="1467" y="573">activity</text>
<text class="bl" x="1566" y="579">NADP</text><text class="bl" x="1566" y="596">binding</text>
<text class="bl" x="1595" y="538">Lipase</text><text class="bl" x="1595" y="555">activity</text>
<text class="bl" x="1640" y="459">Phosphoribosyl-</text><text class="bl" x="1640" y="476">formylglycin-</text><text class="bl" x="1640" y="493">amidine</text><text class="bl" x="1640" y="510">synthase</text><text class="bl" x="1640" y="527">activity</text>
<text class="bl" x="1737" y="462">Phosphoribosyl-</text><text class="bl" x="1737" y="479">aminoimidazole</text><text class="bl" x="1737" y="496">carboxylase</text><text class="bl" x="1737" y="513">activity</text>
<text class="bl" x="1815" y="444">Large</text><text class="bl" x="1815" y="461">ribosomal</text><text class="bl" x="1815" y="478">subunit</text><text class="bl" x="1815" y="495">rRNA</text><text class="bl" x="1815" y="512">binding</text>
<path class="ld" d="M1526 483L1532 490M1499 547L1503 563M1531 549L1524 562M1487 565L1492 572M1536 582L1541 585M1618 553L1632 565M1673 518L1702 553M1742 522L1738 552M1812 520L1803 546"/>
</g>

<g id="kegg">
<text class="st" x="1624" y="715">KEGG Pathway</text>
<path class="ax" d="M1437 739V894H1835"/>
<text class="tk" x="1417" y="899">0</text><text class="tk" x="1417" y="848">2</text><text class="tk" x="1417" y="795">4</text><text class="tk" x="1417" y="744">6</text>
<text class="tk" x="1437" y="923">0</text><text class="tk" x="1502" y="923">2</text><text class="tk" x="1568" y="923">4</text><text class="tk" x="1635" y="923">6</text><text class="tk" x="1701" y="923">8</text><text class="tk" x="1768" y="923">10</text><text class="tk" x="1834" y="923">12</text>
<text class="fe" x="1622" y="955">Fold enrichment</text>
<text class="fe" transform="translate(1393 817) rotate(-90)">-log<tspan font-size="12" dy="4">10</tspan><tspan dy="-4">(</tspan><tspan font-style="italic">p</tspan>-value)</text>
<circle class="bb" cx="1483" cy="782" r="10" fill="#1f3a60"/>
<circle class="bb" cx="1533" cy="792" r="13" fill="#ec1a4c"/>
<circle class="bb" cx="1525" cy="807" r="14" fill="#1f3a60"/>
<circle class="bb" cx="1496" cy="823" r="11" fill="#1f3a60"/>
<circle class="bb" cx="1483" cy="854" r="10" fill="#3cc27a"/>
<circle class="bb" cx="1516" cy="863" r="12" fill="#3cc27a"/>
<circle class="bb" cx="1552" cy="852" r="15" fill="#33a86b"/>
<ellipse class="bb" cx="1781" cy="853" rx="25" ry="27" fill="#38b872"/>
<text class="bl" x="1492" y="743">Metabolic</text><text class="bl" x="1492" y="760">pathways</text>
<text class="bl" x="1554" y="777" style="text-anchor:start">Ribosome</text>
<text class="bl" x="1552" y="814" style="text-anchor:start">Purine metabolism</text>
<text class="bl" x="1519" y="833" style="text-anchor:start">Biosynthesis of antibiotics</text>
<text class="bl" x="1440" y="809" style="text-anchor:start">Biosynthesis</text><text class="bl" x="1440" y="824" style="text-anchor:start">of secon</text><text class="bl" x="1440" y="840" style="text-anchor:start">dary</text><text class="bl" x="1440" y="855" style="text-anchor:start">meta</text><text class="bl" x="1440" y="870" style="text-anchor:start">bolites</text>
<text class="bl" x="1532" y="887" style="text-anchor:start">Glycine, serine and threonine metabolism</text>
<text class="bl" x="1643" y="853">Glyoxylate and</text><text class="bl" x="1643" y="870">dicarboxylate metabolism</text>
<text class="bl" x="1774" y="775">D-Glutamine and</text><text class="bl" x="1774" y="792">D-glutamate</text><text class="bl" x="1774" y="809">metabolism</text>
<path class="ld" d="M1488 766L1484 772M1550 778L1544 783M1538 813L1550 809M1505 825L1518 830M1469 838L1478 848M1525 874L1531 881M1567 851L1590 851M1781 817L1782 826"/>
</g>

<g id="legend">
<text x="1373" y="973" font-size="15" font-weight="700"><tspan font-style="italic">p</tspan>-values from DAVID</text>
<rect x="1382" y="980" width="475" height="58" fill="none" stroke="#000" stroke-width="2"/>
<path d="M1622 980V1038" stroke="#000" stroke-width="1.5" stroke-dasharray="4 3"/>
<text class="tk" x="1430" y="1010">Up-</text><text class="tk" x="1430" y="1029">regulated</text>
<rect x="1480" y="1003" width="123" height="15" fill="url(#gup)"/>
<text class="tk" x="1492" y="1035">0.01</text><text class="tk" x="1539" y="1035">0.02</text><text class="tk" x="1587" y="1035">0.03</text>
<text class="tk" x="1672" y="1010">Down-</text><text class="tk" x="1672" y="1029">regulated</text>
<rect x="1721" y="1003" width="122" height="15" fill="url(#gdn)"/>
<text class="tk" x="1731" y="1035">0.01</text><text class="tk" x="1780" y="1035">0.02</text><text class="tk" x="1826" y="1035">0.03</text>
</g>
</g>
</svg>
